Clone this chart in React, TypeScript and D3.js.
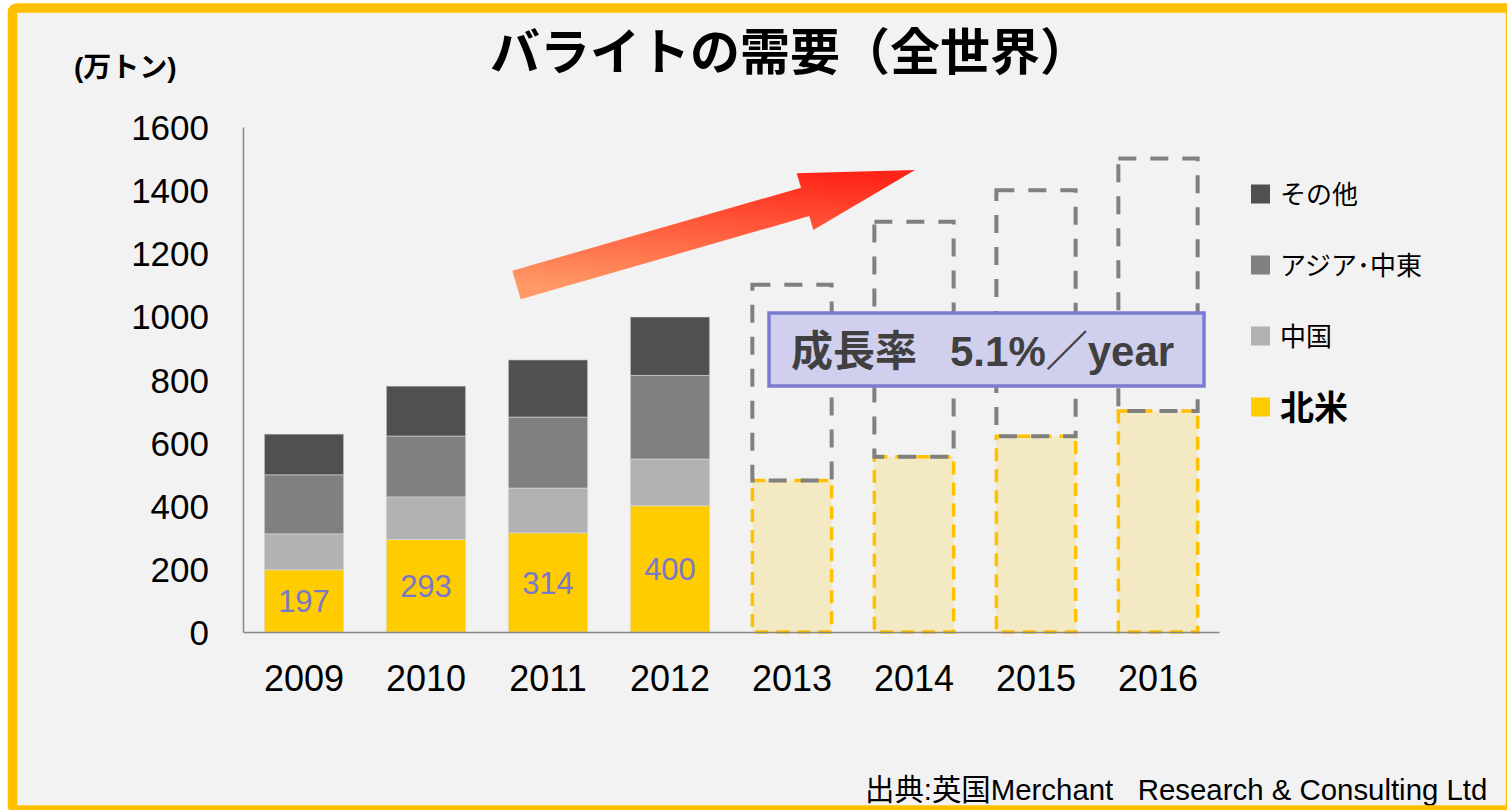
import React, { useRef, useEffect } from "react";
import { select, scaleBand, scaleLinear, axisLeft, axisBottom, stack } from "d3";

// 実績 (2009-2012) と予測 (2013-2016)
const years = ["2009", "2010", "2011", "2012", "2013", "2014", "2015", "2016"];
const actualYears = ["2009", "2010", "2011", "2012"];
const forecastYears = ["2013", "2014", "2015", "2016"];

const northAmerica = [197, 293, 314, 400];
const china = [114, 135, 142, 148];
const asiaMiddleEast = [187, 193, 225, 265];
const others = [129, 158, 181, 185];

const forecastNorthAmerica = [480, 555, 620, 700];
const forecastTotal = [1100, 1300, 1400, 1500];

const yTicks = [0, 200, 400, 600, 800, 1000, 1200, 1400, 1600];

const seriesKeys = ["northAmerica", "china", "asiaMiddleEast", "others"];
const seriesColors = ["#FFCC00", "#B2B2B2", "#808080", "#505050"];
const legendLabels = ["その他", "アジア･中東", "中国", "北米"];
const legendColors = ["#505050", "#808080", "#B2B2B2", "#FFCC00"];

const W = 1507;
const H = 810;
const NUM_FONT = "'Liberation Sans', Arial, 'Noto Sans CJK JP', sans-serif";
const JP_FONT = "'Noto Sans CJK JP', 'Liberation Sans', sans-serif";

function BariteChart() {
  const svgRef = useRef(null);

  useEffect(() => {
    const svg = select(svgRef.current);
    svg.selectAll("*").remove();

    const x = scaleBand()
      .domain(years)
      .range([243, 1219])
      .paddingInner(0.35)
      .paddingOuter(0.175);
    const y = scaleLinear().domain([0, 1600]).range([632, 127]);

    const defs = svg.append("defs");
    const grad = defs
      .append("linearGradient")
      .attr("id", "arrowGrad")
      .attr("x1", "0.7")
      .attr("y1", "0")
      .attr("x2", "0.45")
      .attr("y2", "1");
    grad.append("stop").attr("offset", "0").attr("stop-color", "#FF2418");
    grad.append("stop").attr("offset", "1").attr("stop-color", "#FF9A66");

    // 背景
    svg.append("rect").attr("width", W).attr("height", H).attr("fill", "#FFFFFF");
    svg
      .append("rect")
      .attr("x", 12.5)
      .attr("y", 8)
      .attr("width", 1498)
      .attr("height", 802)
      .attr("fill", "#F2F2F2");

    // タイトル
    svg
      .append("text")
      .attr("x", 790)
      .attr("y", 70)
      .attr("text-anchor", "middle")
      .attr("font-family", JP_FONT)
      .attr("font-weight", "bold")
      .attr("font-size", 50)
      .attr("fill", "#000")
      .text("バライトの需要（全世界）");

    svg
      .append("text")
      .attr("x", 74)
      .attr("y", 77)
      .attr("font-family", NUM_FONT)
      .attr("font-weight", "bold")
      .attr("font-size", 28)
      .attr("fill", "#000")
      .text("(万トン)");

    // 実績の積み上げ
    const table = actualYears.map((yr, i) => ({
      year: yr,
      northAmerica: northAmerica[i],
      china: china[i],
      asiaMiddleEast: asiaMiddleEast[i],
      others: others[i],
    }));
    const stacked = stack().keys(seriesKeys)(table);

    svg
      .append("g")
      .selectAll("g")
      .data(stacked)
      .join("g")
      .attr("fill", (d, i) => seriesColors[i])
      .selectAll("rect")
      .data((d) => d)
      .join("rect")
      .attr("x", (d) => x(d.data.year))
      .attr("y", (d) => y(d[1]))
      .attr("width", x.bandwidth())
      .attr("height", (d) => y(d[0]) - y(d[1]))
      .attr("stroke", "#D8D8D8")
      .attr("stroke-opacity", 0.6)
      .attr("stroke-width", 1);

    // 北米の数値
    svg
      .append("g")
      .selectAll("text")
      .data(actualYears)
      .join("text")
      .attr("x", (d) => x(d) + x.bandwidth() / 2)
      .attr("y", (d, i) => (y(0) + y(northAmerica[i])) / 2)
      .attr("dy", "0.36em")
      .attr("text-anchor", "middle")
      .attr("font-family", NUM_FONT)
      .attr("font-size", 31)
      .attr("fill", "#7878C8")
      .text((d, i) => northAmerica[i]);

    // 予測
    const fc = svg.append("g");
    fc.selectAll("rect.na")
      .data(forecastYears)
      .join("rect")
      .attr("class", "na")
      .attr("x", (d) => x(d))
      .attr("y", (d, i) => y(forecastNorthAmerica[i]))
      .attr("width", x.bandwidth())
      .attr("height", (d, i) => y(0) - y(forecastNorthAmerica[i]))
      .attr("fill", "#F3E9C3")
      .attr("stroke", "#FFC000")
      .attr("stroke-width", 3.5)
      .attr("stroke-dasharray", "13,8");
    fc.selectAll("rect.rest")
      .data(forecastYears)
      .join("rect")
      .attr("class", "rest")
      .attr("x", (d) => x(d))
      .attr("y", (d, i) => y(forecastTotal[i]))
      .attr("width", x.bandwidth())
      .attr("height", (d, i) => y(forecastNorthAmerica[i]) - y(forecastTotal[i]))
      .attr("fill", "none")
      .attr("stroke", "#808080")
      .attr("stroke-width", 4)
      .attr("stroke-dasharray", "18,14");

    // 軸
    const yAxis = svg
      .append("g")
      .attr("transform", "translate(243,0)")
      .call(
        axisLeft(y)
          .tickValues(yTicks)
          .tickFormat((d) => String(d))
          .tickSize(0)
          .tickPadding(34)
      );
    yAxis.select(".domain").attr("stroke", "#888").attr("stroke-width", 1.5);
    yAxis
      .selectAll("text")
      .attr("font-family", NUM_FONT)
      .attr("font-size", 35)
      .attr("fill", "#000")
      .attr("dy", "0.36em");

    const xAxis = svg
      .append("g")
      .attr("transform", "translate(0,632)")
      .call(axisBottom(x).tickSize(0).tickSizeOuter(0).tickPadding(33));
    xAxis.select(".domain").attr("stroke", "#888").attr("stroke-width", 1.5);
    xAxis
      .selectAll("text")
      .attr("font-family", NUM_FONT)
      .attr("font-size", 36)
      .attr("fill", "#000");

    // 矢印
    svg
      .append("polygon")
      .attr(
        "points",
        "520.7,299.3 512.3,270.7 801,187.7 796.7,173.3 915,170 813.3,230 809.3,216"
      )
      .attr("fill", "url(#arrowGrad)");

    // 成長率ボックス
    svg
      .append("rect")
      .attr("x", 769)
      .attr("y", 313)
      .attr("width", 435)
      .attr("height", 73)
      .attr("fill", "#D0D0EE")
      .attr("stroke", "#7B7BD2")
      .attr("stroke-width", 3.5);
    const growth = svg
      .append("text")
      .attr("y", 366)
      .attr("font-family", NUM_FONT)
      .attr("font-weight", "bold")
      .attr("font-size", 42)
      .attr("fill", "#404040");
    growth.append("tspan").attr("x", 791).text("成長率");
    growth.append("tspan").attr("x", 950).text("5.1%／year");

    // 凡例
    const legend = svg
      .append("g")
      .selectAll("g")
      .data(legendLabels)
      .join("g")
      .attr("transform", (d, i) => `translate(1251,${194 + i * 71})`);
    legend
      .append("rect")
      .attr("y", -9.5)
      .attr("width", 19)
      .attr("height", 19)
      .attr("fill", (d, i) => legendColors[i]);
    legend
      .append("text")
      .attr("x", 29)
      .attr("dy", "0.38em")
      .attr("font-family", JP_FONT)
      .attr("font-weight", (d, i) => (i === 3 ? "bold" : "normal"))
      .attr("font-size", (d, i) => (i === 3 ? 34 : 26))
      .attr("fill", "#000")
      .text((d) => d);

    // 出典
    svg
      .append("text")
      .attr("x", 865)
      .attr("y", 800)
      .attr("font-family", NUM_FONT)
      .attr("font-size", 29.4)
      .attr("fill", "#000")
      .style("white-space", "pre")
      .text("出典:英国Merchant   Research & Consulting Ltd");

    // 枠
    svg
      .append("rect")
      .attr("x", 12.5)
      .attr("y", 8)
      .attr("width", 1498)
      .attr("height", 802)
      .attr("rx", 4)
      .attr("fill", "none")
      .attr("stroke", "#FFC000")
      .attr("stroke-width", 9.5);
  }, []);

  return <svg ref={svgRef} width={W} height={H} style={{ display: "block" }} />;
}

export default function App() {
  return (
    <div style={{ position: "absolute", left: 0, top: 0, width: W, height: H, overflow: "hidden" }}>
      <BariteChart />
    </div>
  );
}
